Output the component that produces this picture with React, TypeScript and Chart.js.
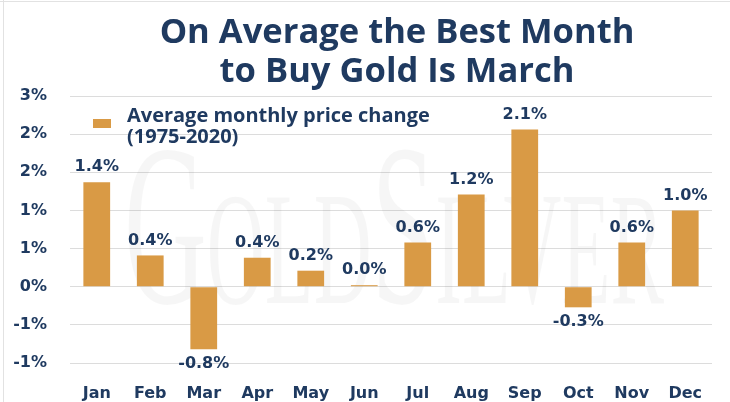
import React, { useEffect, useRef } from 'react';
import { Chart, registerables } from 'chart.js';

Chart.register(...registerables);

const months = ['Jan', 'Feb', 'Mar', 'Apr', 'May', 'Jun', 'Jul', 'Aug', 'Sep', 'Oct', 'Nov', 'Dec'];
const avgChange = [1.37, 0.41, -0.82, 0.38, 0.21, 0.02, 0.58, 1.21, 2.06, -0.27, 0.58, 1.0];
const valueLabels = ['1.4%', '0.4%', '-0.8%', '0.4%', '0.2%', '0.0%', '0.6%', '1.2%', '2.1%', '-0.3%', '0.6%', '1.0%'];
const yTickValues = [-1, -0.5, 0, 0.5, 1, 1.5, 2, 2.5];
const yTickLabels = ['-1%', '-1%', '0%', '1%', '1%', '2%', '2%', '3%'];
const titleLines = ['On Average the Best Month', 'to Buy Gold Is March'];
const seriesLabelLines = ['Average monthly price change', '(1975-2020)'];
const watermarkText = 'GoldSilver';

const NAVY = '#1f3a60';
const GOLD = '#d99a45';
const GRID = '#dcdcdc';

function fitFont(ctx: CanvasRenderingContext2D, text: string, family: string, weight: string, targetWidth: number) {
  ctx.font = `${weight} 20px ${family}`;
  const w = ctx.measureText(text).width;
  return 20 * targetWidth / w;
}

const decorPlugin = {
  id: 'decor',
  beforeDraw(chart: any) {
    const ctx = chart.ctx as CanvasRenderingContext2D;
    ctx.save();
    ctx.fillStyle = '#ffffff';
    ctx.fillRect(0, 0, chart.width, chart.height);
    ctx.strokeStyle = '#e2e2e2';
    ctx.lineWidth = 1;
    ctx.beginPath();
    ctx.moveTo(3.5, 0);
    ctx.lineTo(3.5, chart.height);
    ctx.moveTo(0, 1.5);
    ctx.lineTo(chart.width, 1.5);
    ctx.stroke();
    ctx.restore();
  },
  beforeDatasetsDraw(chart: any) {
    const ctx = chart.ctx as CanvasRenderingContext2D;
    ctx.save();
    (ctx as any).fontVariantCaps = 'small-caps';
    ctx.font = `normal 200px "Liberation Serif", serif`;
    (ctx as any).fontVariantCaps = 'small-caps';
    const w = ctx.measureText(watermarkText).width;
    const sx = 540 / w;
    ctx.translate(124, 303);
    ctx.scale(sx, 1.15);
    ctx.fillStyle = 'rgba(0,0,0,0.035)';
    ctx.textBaseline = 'alphabetic';
    ctx.textAlign = 'left';
    ctx.fillText(watermarkText, 0, 0);
    ctx.restore();
  },
  afterDatasetsDraw(chart: any) {
    const ctx = chart.ctx as CanvasRenderingContext2D;
    const meta = chart.getDatasetMeta(0);
    ctx.save();
    ctx.fillStyle = NAVY;
    ctx.font = 'bold 16px "DejaVu Sans", sans-serif';
    ctx.textAlign = 'center';
    ctx.textBaseline = 'middle';
    meta.data.forEach((el: any, i: number) => {
      const v = avgChange[i];
      const y = v >= 0 ? el.y - 15 : el.y + 15;
      ctx.fillText(valueLabels[i], el.x, y);
    });
    ctx.restore();
  },
  afterDraw(chart: any) {
    const ctx = chart.ctx as CanvasRenderingContext2D;
    ctx.save();
    const tSize = fitFont(ctx, titleLines[0], '"Open Sans", sans-serif', 'bold', 475);
    ctx.font = `bold ${tSize}px "Open Sans", sans-serif`;
    ctx.fillStyle = NAVY;
    ctx.textAlign = 'center';
    ctx.textBaseline = 'alphabetic';
    ctx.fillText(titleLines[0], 397, 43);
    ctx.fillText(titleLines[1], 397, 82);
    const lSize = fitFont(ctx, seriesLabelLines[0], '"Open Sans", sans-serif', 'bold', 303);
    ctx.fillStyle = GOLD;
    ctx.fillRect(93, 119, 18, 9);
    ctx.font = `bold ${lSize}px "Open Sans", sans-serif`;
    ctx.fillStyle = NAVY;
    ctx.textAlign = 'left';
    ctx.fillText(seriesLabelLines[0], 127, 122);
    ctx.fillText(seriesLabelLines[1], 127, 143);
    ctx.restore();
  },
};

export default function App() {
  const ref = useRef<HTMLCanvasElement | null>(null);
  useEffect(() => {
    document.body.style.margin = '0';
    if (!ref.current) return;
    const chart = new Chart(ref.current, {
      type: 'bar',
      data: {
        labels: months,
        datasets: [
          {
            label: seriesLabelLines.join(' '),
            data: avgChange,
            backgroundColor: GOLD,
            borderWidth: 0,
            barPercentage: 0.5,
            categoryPercentage: 1,
          },
        ],
      },
      options: {
        animation: false,
        responsive: false,
        maintainAspectRatio: false,
        layout: { padding: { top: 96, left: 0, right: 18, bottom: 0 } },
        plugins: {
          legend: { display: false },
          title: { display: false },
          tooltip: { enabled: false },
        },
        scales: {
          x: {
            grid: { display: false },
            border: { display: false },
            ticks: {
              color: NAVY,
              font: { family: '"DejaVu Sans", sans-serif', weight: 'bold', size: 16 },
              padding: 13,
              maxRotation: 0,
            },
            afterFit(scale: any) {
              scale.height = 39;
            },
          },
          y: {
            min: -1,
            max: 2.5,
            grid: { color: GRID, lineWidth: 1, drawTicks: false },
            border: { display: false },
            afterBuildTicks(scale: any) {
              scale.ticks = yTickValues.map((v) => ({ value: v }));
            },
            ticks: {
              color: NAVY,
              font: { family: '"DejaVu Sans", sans-serif', weight: 'bold', size: 16 },
              padding: 23,
              callback: (v: any) => yTickLabels[yTickValues.indexOf(Number(v))],
            },
            afterFit(scale: any) {
              scale.width = 70;
            },
          },
        },
      },
      plugins: [decorPlugin],
    });
    return () => chart.destroy();
  }, []);
  return (
    <div style={{ width: 730, height: 402, position: 'relative' }}>
      <canvas ref={ref} width={730} height={402} style={{ width: 730, height: 402, display: 'block' }} />
    </div>
  );
}
